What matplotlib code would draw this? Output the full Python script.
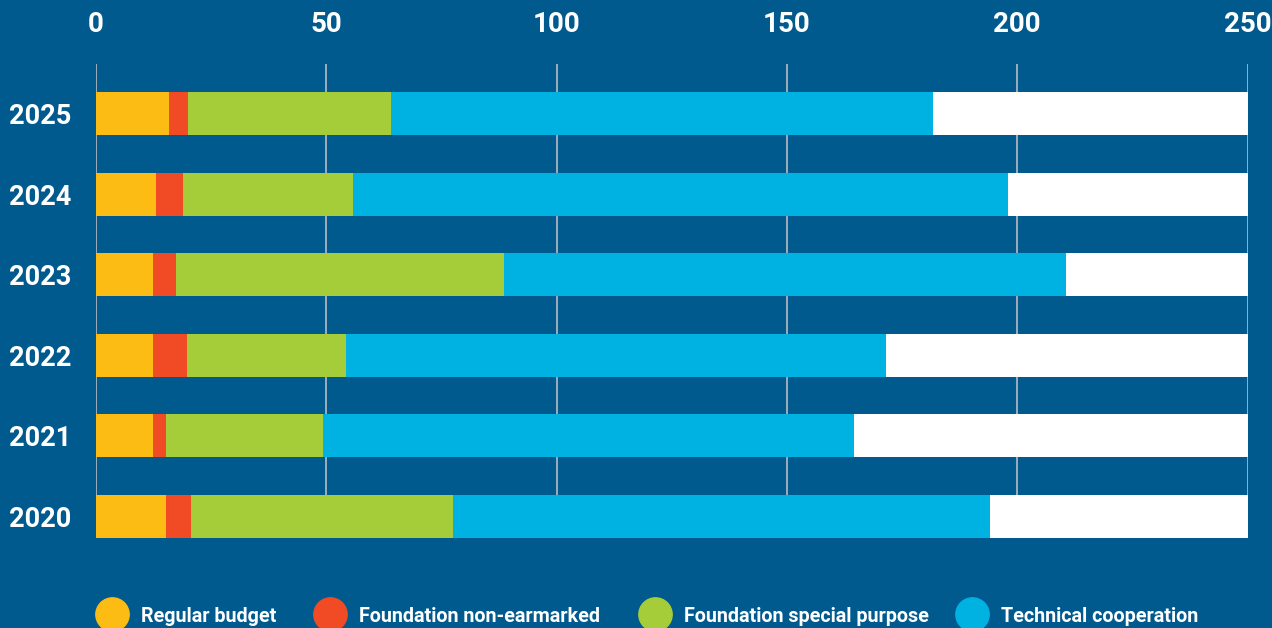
import matplotlib.pyplot as plt
from matplotlib.lines import Line2D

years = ["2020", "2021", "2022", "2023", "2024", "2025"]
regular_budget = [15.3, 12.4, 12.4, 12.4, 13.1, 15.9]
foundation_non_earmarked = [5.4, 2.9, 7.4, 5.0, 5.8, 4.1]
foundation_special = [56.8, 34.0, 34.5, 71.2, 36.9, 44.1]
technical_coop = [116.6, 115.3, 117.2, 122.0, 142.2, 117.7]
x_max = 250
x_ticks = [0, 50, 100, 150, 200, 250]

series = [
    ("Regular budget", regular_budget, "#fdbc14"),
    ("Foundation non-earmarked", foundation_non_earmarked, "#f04b24"),
    ("Foundation special purpose", foundation_special, "#a5cd39"),
    ("Technical cooperation", technical_coop, "#00b2e2"),
]

bg = "#015a8e"
plt.rcParams["font.family"] = ["Roboto", "DejaVu Sans"]

fig = plt.figure(figsize=(12.72, 6.28), dpi=100, facecolor=bg)
ax = fig.add_axes([96 / 1272, 1 - 538 / 628, (1247.5 - 96) / 1272, (538 - 64) / 628])
ax.set_facecolor(bg)

y = list(range(len(years)))
bh = 0.535
ax.barh(y, [x_max] * len(years), height=bh, color="white", zorder=2)
left = [0] * len(years)
for name, vals, col in series:
    ax.barh(y, vals, left=left, height=bh, color=col, zorder=3)
    left = [l + v for l, v in zip(left, vals)]

ax.set_xlim(0, x_max)
ax.set_ylim(-bh / 2, len(years) - 1 + 0.614)
ax.set_xticks(x_ticks)
ax.set_yticks(y)
ax.set_yticklabels(years)
ax.xaxis.tick_top()
ax.tick_params(axis="x", length=0, pad=19, labelsize=20, labelcolor="white")
ax.tick_params(axis="y", length=0, pad=18, labelsize=19.5, labelcolor="white")
for lab in ax.get_xticklabels() + ax.get_yticklabels():
    lab.set_fontweight("bold")
ax.grid(axis="x", color="#aab4be", linewidth=1.3, zorder=1)
ax.set_axisbelow(True)
for s in ax.spines.values():
    s.set_visible(False)

# legend along the bottom edge, circles clipped by the figure border
leg_x = [112, 330, 655, 972]
for (name, vals, col), lx in zip(series, leg_x):
    fig.add_artist(Line2D([lx / 1272], [1 - 614 / 628], marker="o", markersize=24,
                          color=col, linestyle="none", transform=fig.transFigure))
    fig.text((lx + 29) / 1272, 1 - 617 / 628, name, color="white", fontsize=14.2,
             fontweight="bold", va="center", ha="left")

fig.savefig("out.png", dpi=100, facecolor=bg)
